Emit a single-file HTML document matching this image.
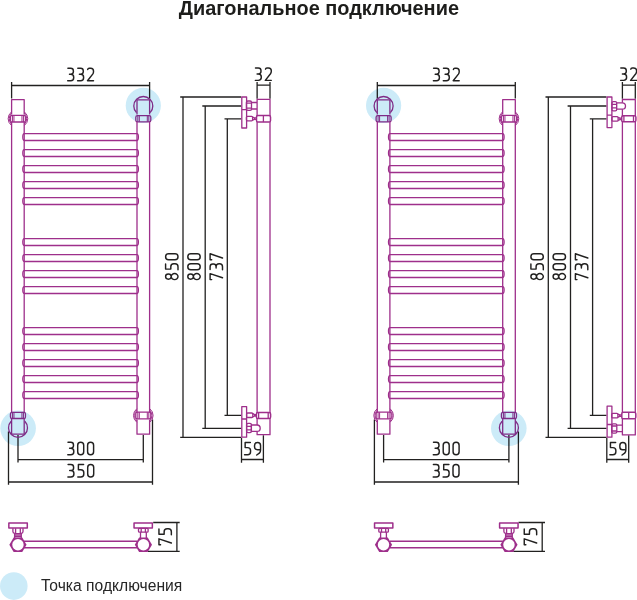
<!DOCTYPE html>
<html><head><meta charset="utf-8"><title>Диагональное подключение</title>
<style>html,body{margin:0;padding:0;background:#fff;}body{width:637px;height:600px;overflow:hidden;font-family:"Liberation Sans",sans-serif;}svg{display:block;}</style></head>
<body>
<svg width="637" height="600" viewBox="0 0 637 600">
<rect width="637" height="600" fill="#fff"/>
<g fill="none" stroke="#222120" stroke-width="1.3">
<path d="M11.6,82 V98.6 M149.6,82 V98.6 M11.6,85.5 H149.6"/>
<path d="M18,435 V462.6 M143.3,435 V462.6 M18,459.7 H143.3"/>
<path d="M8.5,431.5 V484.8 M152.5,419.5 V484.8 M8.5,482 H152.5"/>
<g transform="translate(526.9,0) scale(-1,1)"><path d="M11.6,82 V98.6 M149.6,82 V98.6 M11.6,85.5 H149.6"/>
<path d="M18,435 V462.6 M143.3,435 V462.6 M18,459.7 H143.3"/>
<path d="M8.5,431.5 V484.8 M152.5,419.5 V484.8 M8.5,482 H152.5"/></g>
<path d="M257.1,82 V98.8 M270,82 V98.8 M257.1,85.2 H270"/>
<path d="M180.2,97 H241.2 M183,97 V437.3 M180.2,437.3 H241.2"/>
<path d="M202.3,106 H241.2 M205.2,106 V428.4 M202.3,428.4 H241.2"/>
<path d="M224.5,118.8 H241.2 M227.3,118.8 V415.3 M224.5,415.3 H241.2"/>
<path d="M241.5,437.8 V462.7 M263.4,435.2 V462.7 M241.5,459.5 H263.4"/>
<g transform="translate(365.3,0)"><path d="M257.1,82 V98.8 M270,82 V98.8 M257.1,85.2 H270"/>
<path d="M180.2,97 H241.2 M183,97 V437.3 M180.2,437.3 H241.2"/>
<path d="M202.3,106 H241.2 M205.2,106 V428.4 M202.3,428.4 H241.2"/>
<path d="M224.5,118.8 H241.2 M227.3,118.8 V415.3 M224.5,415.3 H241.2"/>
<path d="M241.5,437.8 V462.7 M263.4,435.2 V462.7 M241.5,459.5 H263.4"/></g>
<path d="M153.2,522.5 H179.7 M148,551.45 H179.7 M176.9,522.5 V551.45"/>
<path d="M518.5,522.5 H545.0 M513.3,551.45 H545.0 M542.2,522.5 V551.45"/>
</g>
<g fill="none" stroke="#9e2f8b" stroke-width="1.3" stroke-linejoin="round">
<path d="M11.6,122 V412.4 M24.2,122 V412.4 M137.0,122 V412.4 M149.6,122 V412.4"/>
<path d="M24.2,133.6 H137.0 A1.4,3.45 0 0 1 137.0,140.5 H24.2 A1.4,3.45 0 0 1 24.2,133.6 Z"/>
<path d="M24.2,149.6 H137.0 A1.4,3.45 0 0 1 137.0,156.5 H24.2 A1.4,3.45 0 0 1 24.2,149.6 Z"/>
<path d="M24.2,165.6 H137.0 A1.4,3.45 0 0 1 137.0,172.5 H24.2 A1.4,3.45 0 0 1 24.2,165.6 Z"/>
<path d="M24.2,181.6 H137.0 A1.4,3.45 0 0 1 137.0,188.5 H24.2 A1.4,3.45 0 0 1 24.2,181.6 Z"/>
<path d="M24.2,197.6 H137.0 A1.4,3.45 0 0 1 137.0,204.5 H24.2 A1.4,3.45 0 0 1 24.2,197.6 Z"/>
<path d="M24.2,238.6 H137.0 A1.4,3.45 0 0 1 137.0,245.5 H24.2 A1.4,3.45 0 0 1 24.2,238.6 Z"/>
<path d="M24.2,254.6 H137.0 A1.4,3.45 0 0 1 137.0,261.5 H24.2 A1.4,3.45 0 0 1 24.2,254.6 Z"/>
<path d="M24.2,270.6 H137.0 A1.4,3.45 0 0 1 137.0,277.5 H24.2 A1.4,3.45 0 0 1 24.2,270.6 Z"/>
<path d="M24.2,286.6 H137.0 A1.4,3.45 0 0 1 137.0,293.5 H24.2 A1.4,3.45 0 0 1 24.2,286.6 Z"/>
<path d="M24.2,327.6 H137.0 A1.4,3.45 0 0 1 137.0,334.5 H24.2 A1.4,3.45 0 0 1 24.2,327.6 Z"/>
<path d="M24.2,343.6 H137.0 A1.4,3.45 0 0 1 137.0,350.5 H24.2 A1.4,3.45 0 0 1 24.2,343.6 Z"/>
<path d="M24.2,359.6 H137.0 A1.4,3.45 0 0 1 137.0,366.5 H24.2 A1.4,3.45 0 0 1 24.2,359.6 Z"/>
<path d="M24.2,375.6 H137.0 A1.4,3.45 0 0 1 137.0,382.5 H24.2 A1.4,3.45 0 0 1 24.2,375.6 Z"/>
<path d="M24.2,391.6 H137.0 A1.4,3.45 0 0 1 137.0,398.5 H24.2 A1.4,3.45 0 0 1 24.2,391.6 Z"/>
<path d="M11.6,114.4 V99.6 H24.2 V114.4"/>
<path stroke-width="1.0" d="M11.45,111.96 A9.8,9.0 0 0 0 11.45,125.44 M24.45,111.96 A9.8,9.0 0 0 1 24.45,125.44"/><path stroke-width="1.0" d="M11.45,113.38 A8.7,8.0 0 0 0 11.45,124.02 M24.45,113.38 A8.7,8.0 0 0 1 24.45,124.02"/><rect x="10.45" y="115.4" width="15.0" height="6.599999999999994" rx="1.6"/><path stroke-width="1.0" d="M13.95,115.4 V122.0 M21.95,115.4 V122.0 M12.45,115.4 V122.0 M23.45,115.4 V122.0"/>
<path d="M136.47,112.6 A9.5,9.5 0 1 1 150.13,112.6"/>
<path d="M137.0,114.6 V99.8 H149.6 V114.6"/>
<rect x="135.8" y="115.6" width="15.0" height="6.200000000000003" rx="1.6"/><path stroke-width="1.0" d="M139.3,115.6 V121.8 M147.3,115.6 V121.8 M137.8,115.6 V121.8 M148.8,115.6 V121.8"/>
<rect x="10.45" y="412.3" width="15.0" height="6.199999999999989" rx="1.6"/><path stroke-width="1.0" d="M13.95,412.3 V418.5 M21.95,412.3 V418.5 M12.45,412.3 V418.5 M23.45,412.3 V418.5"/>
<path d="M11.17,421.2 A9.5,9.5 0 1 0 24.83,421.2"/>
<path d="M11.6,419 V434.2 H24.2 V419"/>
<path stroke-width="1.0" d="M136.8,408.76 A9.8,9.0 0 0 0 136.8,422.24 M149.8,408.76 A9.8,9.0 0 0 1 149.8,422.24"/><path stroke-width="1.0" d="M136.8,410.18 A8.7,8.0 0 0 0 136.8,420.82 M149.8,410.18 A8.7,8.0 0 0 1 149.8,420.82"/><rect x="135.8" y="412.2" width="15.0" height="6.600000000000023" rx="1.6"/><path stroke-width="1.0" d="M139.3,412.2 V418.8 M147.3,412.2 V418.8 M137.8,412.2 V418.8 M148.8,412.2 V418.8"/>
<path d="M137.0,419.4 V434.2 H149.6 V419.4"/>
<g transform="translate(526.9,0) scale(-1,1)"><path d="M11.6,122 V412.4 M24.2,122 V412.4 M137.0,122 V412.4 M149.6,122 V412.4"/>
<path d="M24.2,133.6 H137.0 A1.4,3.45 0 0 1 137.0,140.5 H24.2 A1.4,3.45 0 0 1 24.2,133.6 Z"/>
<path d="M24.2,149.6 H137.0 A1.4,3.45 0 0 1 137.0,156.5 H24.2 A1.4,3.45 0 0 1 24.2,149.6 Z"/>
<path d="M24.2,165.6 H137.0 A1.4,3.45 0 0 1 137.0,172.5 H24.2 A1.4,3.45 0 0 1 24.2,165.6 Z"/>
<path d="M24.2,181.6 H137.0 A1.4,3.45 0 0 1 137.0,188.5 H24.2 A1.4,3.45 0 0 1 24.2,181.6 Z"/>
<path d="M24.2,197.6 H137.0 A1.4,3.45 0 0 1 137.0,204.5 H24.2 A1.4,3.45 0 0 1 24.2,197.6 Z"/>
<path d="M24.2,238.6 H137.0 A1.4,3.45 0 0 1 137.0,245.5 H24.2 A1.4,3.45 0 0 1 24.2,238.6 Z"/>
<path d="M24.2,254.6 H137.0 A1.4,3.45 0 0 1 137.0,261.5 H24.2 A1.4,3.45 0 0 1 24.2,254.6 Z"/>
<path d="M24.2,270.6 H137.0 A1.4,3.45 0 0 1 137.0,277.5 H24.2 A1.4,3.45 0 0 1 24.2,270.6 Z"/>
<path d="M24.2,286.6 H137.0 A1.4,3.45 0 0 1 137.0,293.5 H24.2 A1.4,3.45 0 0 1 24.2,286.6 Z"/>
<path d="M24.2,327.6 H137.0 A1.4,3.45 0 0 1 137.0,334.5 H24.2 A1.4,3.45 0 0 1 24.2,327.6 Z"/>
<path d="M24.2,343.6 H137.0 A1.4,3.45 0 0 1 137.0,350.5 H24.2 A1.4,3.45 0 0 1 24.2,343.6 Z"/>
<path d="M24.2,359.6 H137.0 A1.4,3.45 0 0 1 137.0,366.5 H24.2 A1.4,3.45 0 0 1 24.2,359.6 Z"/>
<path d="M24.2,375.6 H137.0 A1.4,3.45 0 0 1 137.0,382.5 H24.2 A1.4,3.45 0 0 1 24.2,375.6 Z"/>
<path d="M24.2,391.6 H137.0 A1.4,3.45 0 0 1 137.0,398.5 H24.2 A1.4,3.45 0 0 1 24.2,391.6 Z"/>
<path d="M11.6,114.4 V99.6 H24.2 V114.4"/>
<path stroke-width="1.0" d="M11.45,111.96 A9.8,9.0 0 0 0 11.45,125.44 M24.45,111.96 A9.8,9.0 0 0 1 24.45,125.44"/><path stroke-width="1.0" d="M11.45,113.38 A8.7,8.0 0 0 0 11.45,124.02 M24.45,113.38 A8.7,8.0 0 0 1 24.45,124.02"/><rect x="10.45" y="115.4" width="15.0" height="6.599999999999994" rx="1.6"/><path stroke-width="1.0" d="M13.95,115.4 V122.0 M21.95,115.4 V122.0 M12.45,115.4 V122.0 M23.45,115.4 V122.0"/>
<path d="M136.47,112.6 A9.5,9.5 0 1 1 150.13,112.6"/>
<path d="M137.0,114.6 V99.8 H149.6 V114.6"/>
<rect x="135.8" y="115.6" width="15.0" height="6.200000000000003" rx="1.6"/><path stroke-width="1.0" d="M139.3,115.6 V121.8 M147.3,115.6 V121.8 M137.8,115.6 V121.8 M148.8,115.6 V121.8"/>
<rect x="10.45" y="412.3" width="15.0" height="6.199999999999989" rx="1.6"/><path stroke-width="1.0" d="M13.95,412.3 V418.5 M21.95,412.3 V418.5 M12.45,412.3 V418.5 M23.45,412.3 V418.5"/>
<path d="M11.17,421.2 A9.5,9.5 0 1 0 24.83,421.2"/>
<path d="M11.6,419 V434.2 H24.2 V419"/>
<path stroke-width="1.0" d="M136.8,408.76 A9.8,9.0 0 0 0 136.8,422.24 M149.8,408.76 A9.8,9.0 0 0 1 149.8,422.24"/><path stroke-width="1.0" d="M136.8,410.18 A8.7,8.0 0 0 0 136.8,420.82 M149.8,410.18 A8.7,8.0 0 0 1 149.8,420.82"/><rect x="135.8" y="412.2" width="15.0" height="6.600000000000023" rx="1.6"/><path stroke-width="1.0" d="M139.3,412.2 V418.8 M147.3,412.2 V418.8 M137.8,412.2 V418.8 M148.8,412.2 V418.8"/>
<path d="M137.0,419.4 V434.2 H149.6 V419.4"/></g>
<path d="M257.1,434.7 V99.3 H270.0 V434.7 Z" />
<rect x="256.5" y="115.4" width="14.0" height="6.6" rx="1.6" fill="#fff" stroke-width="1.5"/><path d="M263.4,115.3 V122.1"/>
<rect x="256.4" y="412.4" width="14.2" height="6.1" rx="1.6" fill="#fff" stroke-width="1.5"/><path d="M258.6,412.3 V418.6 M268.2,412.3 V418.6"/>
<path d="M241.8,97 H246.6 V128 H241.8 Z M241.8,109.7 H246.6"/>
<rect x="246.4" y="101" width="5.1" height="9.4" rx="1.4"/><path d="M246.6,103.2 H251.3 M246.6,108.2 H251.3"/>
<path d="M251.5,102.5 H257 M251.5,109 H257"/>
<rect x="246.4" y="116.3" width="6.2" height="4.5" rx="1"/><path d="M252.6,117 L254.4,117.9 H256.4 M252.6,120.1 L254.4,119.3 H256.4 M254.4,117.9 V119.3"/>
<path d="M241.8,406.6 H246.6 V437.2 H241.8 Z M241.8,419 H246.6"/>
<rect x="246.6" y="413.0" width="6.2" height="4.5" rx="1"/><path d="M252.8,413.7 L254.6,414.6 H256.3 M252.8,416.8 L254.6,416 H256.3 M254.6,414.6 V416"/>
<rect x="246.6" y="423.4" width="4.8" height="9.2" rx="1.4"/><path d="M246.8,426.3 H251.2 M246.8,429.9 H251.2"/>
<path fill="#fff" d="M251.4,425 H257 A3.2,3.2 0 0 1 257,431.4 H251.4 Z"/>
<g transform="translate(365.3,534.2) scale(1,-1)"><path d="M257.1,434.7 V99.3 H270.0 V434.7 Z" />
<rect x="256.5" y="115.4" width="14.0" height="6.6" rx="1.6" fill="#fff" stroke-width="1.5"/><path d="M263.4,115.3 V122.1"/>
<rect x="256.4" y="412.4" width="14.2" height="6.1" rx="1.6" fill="#fff" stroke-width="1.5"/><path d="M258.6,412.3 V418.6 M268.2,412.3 V418.6"/>
<path d="M241.8,97 H246.6 V128 H241.8 Z M241.8,109.7 H246.6"/>
<rect x="246.4" y="101" width="5.1" height="9.4" rx="1.4"/><path d="M246.6,103.2 H251.3 M246.6,108.2 H251.3"/>
<path d="M251.5,102.5 H257 M251.5,109 H257"/>
<rect x="246.4" y="116.3" width="6.2" height="4.5" rx="1"/><path d="M252.6,117 L254.4,117.9 H256.4 M252.6,120.1 L254.4,119.3 H256.4 M254.4,117.9 V119.3"/>
<path d="M241.8,406.6 H246.6 V437.2 H241.8 Z M241.8,419 H246.6"/>
<rect x="246.6" y="413.0" width="6.2" height="4.5" rx="1"/><path d="M252.8,413.7 L254.6,414.6 H256.3 M252.8,416.8 L254.6,416 H256.3 M254.6,414.6 V416"/>
<rect x="246.6" y="423.4" width="4.8" height="9.2" rx="1.4"/><path d="M246.8,426.3 H251.2 M246.8,429.9 H251.2"/>
<path fill="#fff" d="M251.4,425 H257 A3.2,3.2 0 0 1 257,431.4 H251.4 Z"/></g>
<path stroke-width="1.5" d="M24,541.2 H137 M24,547.8 H137"/>
<rect x="8.85" y="522.9" width="18.45" height="5.2" stroke-width="1.5"/>
<path d="M12.9,528.3 V531.6 Q12.9,533.2 14.6,533.4 V538 M23.0,528.3 V531.6 Q23.0,533.2 21.3,533.4 V538 M15.6,528.3 V533.6 M20.3,528.3 V533.6 M14.6,533.6 H21.3 M14.6,535.2 H21.3 M14.6,536.7 H21.3"/>
<path d="M9.35,544.80 L13.65,537.60 L22.25,537.60 L26.55,544.80 L22.25,552.00 L13.65,552.00 Z" fill="#9e2f8b" stroke="none"/><circle cx="17.95" cy="544.8" r="5.7" fill="#fff" stroke="none"/>
<rect x="134.05" y="522.9" width="18.3" height="5.2" stroke-width="1.5"/>
<rect x="138.5" y="528.3" width="9.6" height="3.9" rx="1"/><path d="M141.2,528.3 V532.2 M145.4,528.3 V532.2 M140.5,532.2 V538.2 M146.3,532.2 V538.2"/>
<path d="M134.80,544.70 L139.10,537.50 L147.70,537.50 L152.00,544.70 L147.70,551.90 L139.10,551.90 Z" fill="#9e2f8b" stroke="none"/><circle cx="143.4" cy="544.7" r="5.7" fill="#fff" stroke="none"/>
<g transform="translate(526.9,0) scale(-1,1)"><path stroke-width="1.5" d="M24,541.2 H137 M24,547.8 H137"/>
<rect x="8.85" y="522.9" width="18.45" height="5.2" stroke-width="1.5"/>
<path d="M12.9,528.3 V531.6 Q12.9,533.2 14.6,533.4 V538 M23.0,528.3 V531.6 Q23.0,533.2 21.3,533.4 V538 M15.6,528.3 V533.6 M20.3,528.3 V533.6 M14.6,533.6 H21.3 M14.6,535.2 H21.3 M14.6,536.7 H21.3"/>
<path d="M9.35,544.80 L13.65,537.60 L22.25,537.60 L26.55,544.80 L22.25,552.00 L13.65,552.00 Z" fill="#9e2f8b" stroke="none"/><circle cx="17.95" cy="544.8" r="5.7" fill="#fff" stroke="none"/>
<rect x="134.05" y="522.9" width="18.3" height="5.2" stroke-width="1.5"/>
<rect x="138.5" y="528.3" width="9.6" height="3.9" rx="1"/><path d="M141.2,528.3 V532.2 M145.4,528.3 V532.2 M140.5,532.2 V538.2 M146.3,532.2 V538.2"/>
<path d="M134.80,544.70 L139.10,537.50 L147.70,537.50 L152.00,544.70 L147.70,551.90 L139.10,551.90 Z" fill="#9e2f8b" stroke="none"/><circle cx="143.4" cy="544.7" r="5.7" fill="#fff" stroke="none"/></g>
</g>
<g transform="translate(80.6,74.5) rotate(0) scale(1.0) translate(-12.9,-6.2)" fill="none" stroke="#222120" stroke-width="1.45" stroke-linecap="round" stroke-linejoin="round"><path transform="translate(0.0,0)" d="M0.2,0 H3 A2.7,2.7 0 0 1 5.7,2.7 V3.3 A2.7,2.7 0 0 1 3,6 H1.8 M3,6 A3,3 0 0 1 6,9 V9.4 A3,3 0 0 1 3,12.4 H0"/><path transform="translate(9.9,0)" d="M0.2,0 H3 A2.7,2.7 0 0 1 5.7,2.7 V3.3 A2.7,2.7 0 0 1 3,6 H1.8 M3,6 A3,3 0 0 1 6,9 V9.4 A3,3 0 0 1 3,12.4 H0"/><path transform="translate(19.8,0)" d="M0.2,1.2 Q0.4,0 1.6,0 H3.2 A2.8,2.8 0 0 1 6,2.8 V3.4 Q6,4.6 5.2,5.8 L0,12.4 H6"/></g>
<g transform="translate(446.29999999999995,74.5) rotate(0) scale(1.0) translate(-12.9,-6.2)" fill="none" stroke="#222120" stroke-width="1.45" stroke-linecap="round" stroke-linejoin="round"><path transform="translate(0.0,0)" d="M0.2,0 H3 A2.7,2.7 0 0 1 5.7,2.7 V3.3 A2.7,2.7 0 0 1 3,6 H1.8 M3,6 A3,3 0 0 1 6,9 V9.4 A3,3 0 0 1 3,12.4 H0"/><path transform="translate(9.9,0)" d="M0.2,0 H3 A2.7,2.7 0 0 1 5.7,2.7 V3.3 A2.7,2.7 0 0 1 3,6 H1.8 M3,6 A3,3 0 0 1 6,9 V9.4 A3,3 0 0 1 3,12.4 H0"/><path transform="translate(19.8,0)" d="M0.2,1.2 Q0.4,0 1.6,0 H3.2 A2.8,2.8 0 0 1 6,2.8 V3.4 Q6,4.6 5.2,5.8 L0,12.4 H6"/></g>
<g transform="translate(80.7,448.5) rotate(0) scale(1.0) translate(-12.9,-6.2)" fill="none" stroke="#222120" stroke-width="1.45" stroke-linecap="round" stroke-linejoin="round"><path transform="translate(0.0,0)" d="M0.2,0 H3 A2.7,2.7 0 0 1 5.7,2.7 V3.3 A2.7,2.7 0 0 1 3,6 H1.8 M3,6 A3,3 0 0 1 6,9 V9.4 A3,3 0 0 1 3,12.4 H0"/><path transform="translate(9.9,0)" d="M0,3 A3,3 0 0 1 6,3 V9.4 A3,3 0 0 1 0,9.4 Z"/><path transform="translate(19.8,0)" d="M0,3 A3,3 0 0 1 6,3 V9.4 A3,3 0 0 1 0,9.4 Z"/></g>
<g transform="translate(446.2,448.5) rotate(0) scale(1.0) translate(-12.9,-6.2)" fill="none" stroke="#222120" stroke-width="1.45" stroke-linecap="round" stroke-linejoin="round"><path transform="translate(0.0,0)" d="M0.2,0 H3 A2.7,2.7 0 0 1 5.7,2.7 V3.3 A2.7,2.7 0 0 1 3,6 H1.8 M3,6 A3,3 0 0 1 6,9 V9.4 A3,3 0 0 1 3,12.4 H0"/><path transform="translate(9.9,0)" d="M0,3 A3,3 0 0 1 6,3 V9.4 A3,3 0 0 1 0,9.4 Z"/><path transform="translate(19.8,0)" d="M0,3 A3,3 0 0 1 6,3 V9.4 A3,3 0 0 1 0,9.4 Z"/></g>
<g transform="translate(80.8,470.8) rotate(0) scale(1.0) translate(-12.9,-6.2)" fill="none" stroke="#222120" stroke-width="1.45" stroke-linecap="round" stroke-linejoin="round"><path transform="translate(0.0,0)" d="M0.2,0 H3 A2.7,2.7 0 0 1 5.7,2.7 V3.3 A2.7,2.7 0 0 1 3,6 H1.8 M3,6 A3,3 0 0 1 6,9 V9.4 A3,3 0 0 1 3,12.4 H0"/><path transform="translate(9.9,0)" d="M5.8,0 H0.6 V5.2 H3 A3,3 0 0 1 6,8.2 V9.4 A3,3 0 0 1 3,12.4 H0"/><path transform="translate(19.8,0)" d="M0,3 A3,3 0 0 1 6,3 V9.4 A3,3 0 0 1 0,9.4 Z"/></g>
<g transform="translate(446.09999999999997,470.8) rotate(0) scale(1.0) translate(-12.9,-6.2)" fill="none" stroke="#222120" stroke-width="1.45" stroke-linecap="round" stroke-linejoin="round"><path transform="translate(0.0,0)" d="M0.2,0 H3 A2.7,2.7 0 0 1 5.7,2.7 V3.3 A2.7,2.7 0 0 1 3,6 H1.8 M3,6 A3,3 0 0 1 6,9 V9.4 A3,3 0 0 1 3,12.4 H0"/><path transform="translate(9.9,0)" d="M5.8,0 H0.6 V5.2 H3 A3,3 0 0 1 6,8.2 V9.4 A3,3 0 0 1 3,12.4 H0"/><path transform="translate(19.8,0)" d="M0,3 A3,3 0 0 1 6,3 V9.4 A3,3 0 0 1 0,9.4 Z"/></g>
<g transform="translate(263.3,74.15) rotate(0) scale(1.0) translate(-8.0,-6.2)" fill="none" stroke="#222120" stroke-width="1.45" stroke-linecap="round" stroke-linejoin="round"><path transform="translate(0.0,0)" d="M0.2,0 H3 A2.7,2.7 0 0 1 5.7,2.7 V3.3 A2.7,2.7 0 0 1 3,6 H1.8 M3,6 A3,3 0 0 1 6,9 V9.4 A3,3 0 0 1 3,12.4 H0"/><path transform="translate(10.0,0)" d="M0.2,1.2 Q0.4,0 1.6,0 H3.2 A2.8,2.8 0 0 1 6,2.8 V3.4 Q6,4.6 5.2,5.8 L0,12.4 H6"/></g>
<g transform="translate(171.8,266.7) rotate(-90) scale(1.0) translate(-12.9,-6.2)" fill="none" stroke="#222120" stroke-width="1.45" stroke-linecap="round" stroke-linejoin="round"><path transform="translate(0.0,0)" d="M3,5.6 A2.6,2.8 0 1 1 3,0 A2.6,2.8 0 1 1 3,5.6 Z M3,5.6 A3,3.4 0 1 1 3,12.4 A3,3.4 0 1 1 3,5.6 Z"/><path transform="translate(9.9,0)" d="M5.8,0 H0.6 V5.2 H3 A3,3 0 0 1 6,8.2 V9.4 A3,3 0 0 1 3,12.4 H0"/><path transform="translate(19.8,0)" d="M0,3 A3,3 0 0 1 6,3 V9.4 A3,3 0 0 1 0,9.4 Z"/></g>
<g transform="translate(194,266.7) rotate(-90) scale(1.0) translate(-12.9,-6.2)" fill="none" stroke="#222120" stroke-width="1.45" stroke-linecap="round" stroke-linejoin="round"><path transform="translate(0.0,0)" d="M3,5.6 A2.6,2.8 0 1 1 3,0 A2.6,2.8 0 1 1 3,5.6 Z M3,5.6 A3,3.4 0 1 1 3,12.4 A3,3.4 0 1 1 3,5.6 Z"/><path transform="translate(9.9,0)" d="M0,3 A3,3 0 0 1 6,3 V9.4 A3,3 0 0 1 0,9.4 Z"/><path transform="translate(19.8,0)" d="M0,3 A3,3 0 0 1 6,3 V9.4 A3,3 0 0 1 0,9.4 Z"/></g>
<g transform="translate(216.3,266.7) rotate(-90) scale(1.0) translate(-12.9,-6.2)" fill="none" stroke="#222120" stroke-width="1.45" stroke-linecap="round" stroke-linejoin="round"><path transform="translate(0.0,0)" d="M0,1.6 V0 H6 L1.8,12.4"/><path transform="translate(9.9,0)" d="M0.2,0 H3 A2.7,2.7 0 0 1 5.7,2.7 V3.3 A2.7,2.7 0 0 1 3,6 H1.8 M3,6 A3,3 0 0 1 6,9 V9.4 A3,3 0 0 1 3,12.4 H0"/><path transform="translate(19.8,0)" d="M0,1.6 V0 H6 L1.8,12.4"/></g>
<g transform="translate(252.55,448.6) rotate(0) scale(1.0) translate(-8.0,-6.2)" fill="none" stroke="#222120" stroke-width="1.45" stroke-linecap="round" stroke-linejoin="round"><path transform="translate(0.0,0)" d="M5.8,0 H0.6 V5.2 H3 A3,3 0 0 1 6,8.2 V9.4 A3,3 0 0 1 3,12.4 H0"/><path transform="translate(10.0,0)" d="M6,3 A3,3 0 0 0 0,3 V4.5 A2.8,2.8 0 0 0 2.8,7.3 H6 M6,3 V7.6 Q6,9.4 4.8,10.8 L2.2,12.6"/></g>
<g transform="translate(165.15,536.85) rotate(-90) scale(1.0) translate(-8.0,-6.2)" fill="none" stroke="#222120" stroke-width="1.45" stroke-linecap="round" stroke-linejoin="round"><path transform="translate(0.0,0)" d="M0,1.6 V0 H6 L1.8,12.4"/><path transform="translate(10.0,0)" d="M5.8,0 H0.6 V5.2 H3 A3,3 0 0 1 6,8.2 V9.4 A3,3 0 0 1 3,12.4 H0"/></g>
<g transform="translate(628.6,74.15) rotate(0) scale(1.0) translate(-8.0,-6.2)" fill="none" stroke="#222120" stroke-width="1.45" stroke-linecap="round" stroke-linejoin="round"><path transform="translate(0.0,0)" d="M0.2,0 H3 A2.7,2.7 0 0 1 5.7,2.7 V3.3 A2.7,2.7 0 0 1 3,6 H1.8 M3,6 A3,3 0 0 1 6,9 V9.4 A3,3 0 0 1 3,12.4 H0"/><path transform="translate(10.0,0)" d="M0.2,1.2 Q0.4,0 1.6,0 H3.2 A2.8,2.8 0 0 1 6,2.8 V3.4 Q6,4.6 5.2,5.8 L0,12.4 H6"/></g>
<g transform="translate(537.1,266.7) rotate(-90) scale(1.0) translate(-12.9,-6.2)" fill="none" stroke="#222120" stroke-width="1.45" stroke-linecap="round" stroke-linejoin="round"><path transform="translate(0.0,0)" d="M3,5.6 A2.6,2.8 0 1 1 3,0 A2.6,2.8 0 1 1 3,5.6 Z M3,5.6 A3,3.4 0 1 1 3,12.4 A3,3.4 0 1 1 3,5.6 Z"/><path transform="translate(9.9,0)" d="M5.8,0 H0.6 V5.2 H3 A3,3 0 0 1 6,8.2 V9.4 A3,3 0 0 1 3,12.4 H0"/><path transform="translate(19.8,0)" d="M0,3 A3,3 0 0 1 6,3 V9.4 A3,3 0 0 1 0,9.4 Z"/></g>
<g transform="translate(559.3,266.7) rotate(-90) scale(1.0) translate(-12.9,-6.2)" fill="none" stroke="#222120" stroke-width="1.45" stroke-linecap="round" stroke-linejoin="round"><path transform="translate(0.0,0)" d="M3,5.6 A2.6,2.8 0 1 1 3,0 A2.6,2.8 0 1 1 3,5.6 Z M3,5.6 A3,3.4 0 1 1 3,12.4 A3,3.4 0 1 1 3,5.6 Z"/><path transform="translate(9.9,0)" d="M0,3 A3,3 0 0 1 6,3 V9.4 A3,3 0 0 1 0,9.4 Z"/><path transform="translate(19.8,0)" d="M0,3 A3,3 0 0 1 6,3 V9.4 A3,3 0 0 1 0,9.4 Z"/></g>
<g transform="translate(581.6,266.7) rotate(-90) scale(1.0) translate(-12.9,-6.2)" fill="none" stroke="#222120" stroke-width="1.45" stroke-linecap="round" stroke-linejoin="round"><path transform="translate(0.0,0)" d="M0,1.6 V0 H6 L1.8,12.4"/><path transform="translate(9.9,0)" d="M0.2,0 H3 A2.7,2.7 0 0 1 5.7,2.7 V3.3 A2.7,2.7 0 0 1 3,6 H1.8 M3,6 A3,3 0 0 1 6,9 V9.4 A3,3 0 0 1 3,12.4 H0"/><path transform="translate(19.8,0)" d="M0,1.6 V0 H6 L1.8,12.4"/></g>
<g transform="translate(617.85,448.6) rotate(0) scale(1.0) translate(-8.0,-6.2)" fill="none" stroke="#222120" stroke-width="1.45" stroke-linecap="round" stroke-linejoin="round"><path transform="translate(0.0,0)" d="M5.8,0 H0.6 V5.2 H3 A3,3 0 0 1 6,8.2 V9.4 A3,3 0 0 1 3,12.4 H0"/><path transform="translate(10.0,0)" d="M6,3 A3,3 0 0 0 0,3 V4.5 A2.8,2.8 0 0 0 2.8,7.3 H6 M6,3 V7.6 Q6,9.4 4.8,10.8 L2.2,12.6"/></g>
<g transform="translate(530.45,536.85) rotate(-90) scale(1.0) translate(-8.0,-6.2)" fill="none" stroke="#222120" stroke-width="1.45" stroke-linecap="round" stroke-linejoin="round"><path transform="translate(0.0,0)" d="M0,1.6 V0 H6 L1.8,12.4"/><path transform="translate(10.0,0)" d="M5.8,0 H0.6 V5.2 H3 A3,3 0 0 1 6,8.2 V9.4 A3,3 0 0 1 3,12.4 H0"/></g>
<text x="178.7" y="14.7" font-family="Liberation Sans, sans-serif" font-weight="bold" font-size="19.93" fill="#1d1d1b">Диагональное подключение</text>
<text transform="translate(41.0,590.75) scale(1,1.045)" font-family="Liberation Sans, sans-serif" font-size="15.66" fill="#262626">Точка подключения</text>
<circle cx="143.3" cy="105.4" r="17.6" fill="#ccebf8" style="mix-blend-mode:multiply"/>
<circle cx="18.1" cy="428.3" r="17.8" fill="#ccebf8" style="mix-blend-mode:multiply"/>
<circle cx="383.59999999999997" cy="105.4" r="17.6" fill="#ccebf8" style="mix-blend-mode:multiply"/>
<circle cx="508.79999999999995" cy="428.3" r="17.8" fill="#ccebf8" style="mix-blend-mode:multiply"/>
<circle cx="13.8" cy="586.1" r="13.8" fill="#ccebf8" style="mix-blend-mode:multiply"/>
</svg>
</body></html>
